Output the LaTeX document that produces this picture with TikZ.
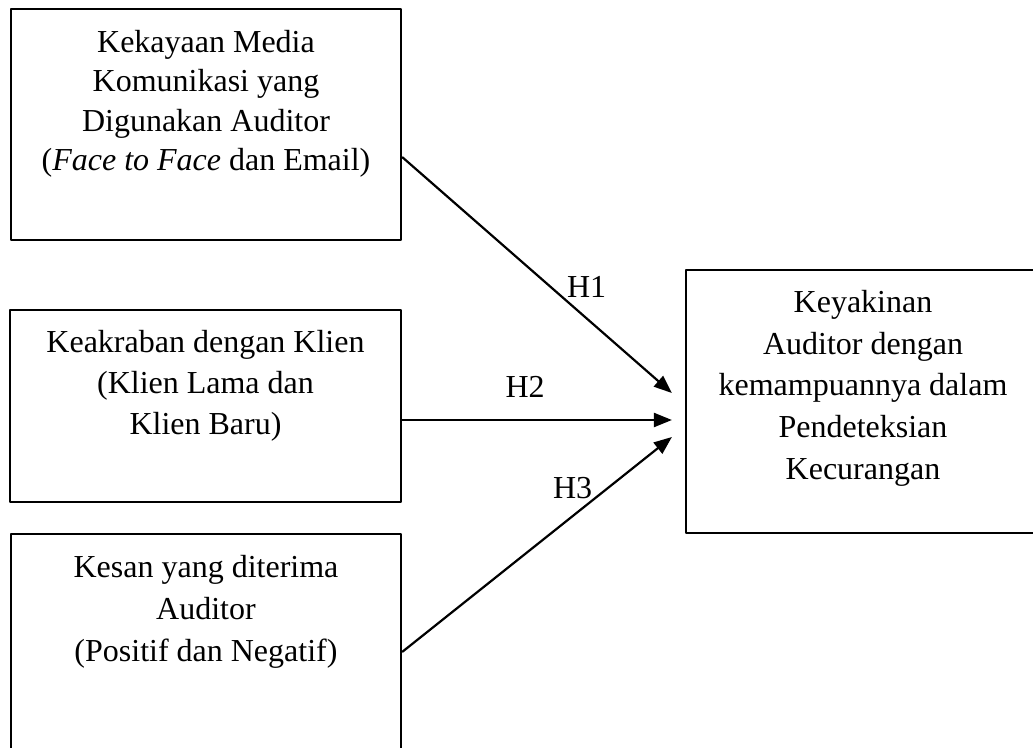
\documentclass[tikz,border=0pt]{standalone}
\usepackage{fontspec}
\setmainfont{Liberation Serif}
\usetikzlibrary{arrows.meta}
\usetikzlibrary{positioning}

\begin{document}
\begin{tikzpicture}[
		% one unit = one pixel of the page, y pointing down
		x=0.5pt, y=-0.5pt,
		line join=round,
		varbox/.style={draw, rectangle, line width=1.1pt, inner sep=0pt},
		vartext/.style={align=center, inner sep=0pt, font=\fontsize{16}{20.5}\selectfont},
		hyp/.style={line width=1.1pt, -{Triangle[length=9pt, width=7pt]}},
		hlabel/.style={inner sep=0pt, font=\fontsize{16}{19}\selectfont}
	]

	% Page size
	\useasboundingbox (0,0) rectangle (1033,748);
	\clip (0,0) rectangle (1033,748);

	%-------------------
	% Independent variables (left)
	%-------------------
	\node[varbox, minimum width=195pt, minimum height=115.5pt] (media) at (206,124.5) {};
	\node[vartext, font=\fontsize{16}{19.75}\selectfont, below=11pt of media.north] (media text)
	{Kekayaan Media\\Komunikasi yang\\Digunakan Auditor\\(\textit{Face to Face} dan Email)};

	\node[varbox, minimum width=195.5pt, minimum height=96pt] (klien) at (205.5,406) {};
	\node[vartext, below=10.5pt of klien.north] (klien text)
	{Keakraban dengan Klien\\(Klien Lama dan\\Klien Baru)};

	% runs off the bottom of the page
	\node[varbox, minimum width=195pt, minimum height=128pt] (kesan) at (206,662) {};
	\node[vartext, font=\fontsize{16}{21}\selectfont, below=11pt of kesan.north] (kesan text)
	{Kesan yang diterima\\Auditor\\(Positif dan Negatif)};

	%-------------------
	% Dependent variable (right, runs off the page edge)
	%-------------------
	\node[varbox, minimum width=177pt, minimum height=131.5pt] (keyakinan) at (863,401.5) {};
	\node[vartext, font=\fontsize{16}{20.85}\selectfont, below=10.5pt of keyakinan.north] (keyakinan text)
	{Keyakinan\\Auditor dengan\\kemampuannya dalam\\Pendeteksian\\Kecurangan};

	%-------------------
	% Hypotheses
	%-------------------
	\draw[hyp] ([yshift=-16.25pt]media.east) -- ([xshift=-6.5pt, yshift=4.25pt]keyakinan.west)
	node[hlabel, pos=0.684, yshift=15.7pt] (h1) {H1};
	\draw[hyp] ([yshift=-7pt]klien.east) -- ([xshift=-6.5pt, yshift=-9.25pt]keyakinan.west)
	node[hlabel, pos=0.456, yshift=16.5pt] (h2) {H2};
	\draw[hyp] ([yshift=5pt]kesan.east) -- ([xshift=-6.5pt, yshift=-17.75pt]keyakinan.west)
	node[hlabel, pos=0.632, yshift=14pt] (h3) {H3};

\end{tikzpicture}
\end{document}
